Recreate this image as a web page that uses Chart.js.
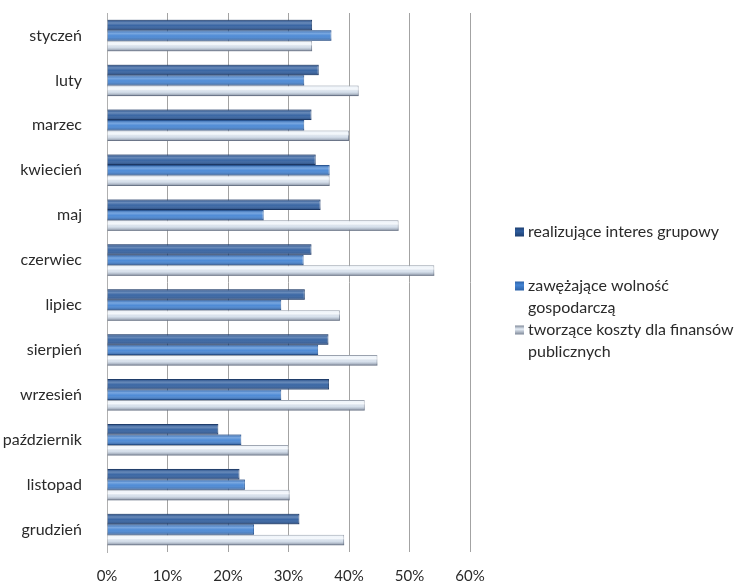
<!DOCTYPE html>
<html><head><meta charset="utf-8">
<script src="https://cdn.jsdelivr.net/npm/chart.js@4"></script>
<style>html,body{margin:0;padding:0;background:#fff}</style>
</head><body>
<canvas id="c" width="740" height="581"></canvas>
<script>
const months = ['styczeń','luty','marzec','kwiecień','maj','czerwiec','lipiec','sierpień','wrzesień','październik','listopad','grudzień'];
const seriesNames = ['realizujące interes grupowy','zawężające wolność gospodarczą','tworzące koszty dla finansów publicznych'];
const legendLines = [['realizujące interes grupowy'],['zawężające wolność','gospodarczą'],['tworzące koszty dla finansów','publicznych']];
const grupowy = [33.9,35.0,33.8,34.5,35.3,33.8,32.7,36.6,36.7,18.4,21.9,31.8];
const wolnosc = [37.1,32.6,32.6,36.8,25.9,32.5,28.8,34.9,28.8,22.2,22.8,24.3];
const koszty  = [33.9,41.6,40.0,36.8,48.2,54.1,38.5,44.7,42.6,30.0,30.2,39.2];
const xTicks = [0,10,20,30,40,50,60];

const fillColors = ['#2F5E9F','#4585D4','#E6EEF7'];
const borderColors = ['#1E3F70','#2C62A8','#7E8898'];
const FONT = "Lato, 'Open Sans', sans-serif";
const TEXT = '#2a2a2a';

const shade = {
  id:'shade',
  afterDatasetsDraw(chart){
    const ctx = chart.ctx;
    chart.data.datasets.forEach((ds,di)=>{
      const meta = chart.getDatasetMeta(di);
      meta.data.forEach(el=>{
        const p = el.getProps(['x','y','base','height'], true);
        const top = p.y - p.height/2, h = p.height;
        const g = ctx.createLinearGradient(0, top, 0, top+h);
        if (di===2){
          g.addColorStop(0,'rgba(255,255,255,0.2)');
          g.addColorStop(0.35,'rgba(255,255,255,0.6)');
          g.addColorStop(0.6,'rgba(160,175,195,0.2)');
          g.addColorStop(1,'rgba(90,100,120,0.75)');
        } else {
          g.addColorStop(0,'rgba(0,20,60,0.25)');
          g.addColorStop(0.3,'rgba(255,255,255,0.28)');
          g.addColorStop(0.55,'rgba(255,255,255,0.05)');
          g.addColorStop(1,'rgba(0,20,60,0.4)');
        }
        ctx.save();
        ctx.fillStyle = g;
        ctx.fillRect(Math.min(p.base,p.x), top, Math.abs(p.x-p.base), h);
        ctx.restore();
      });
    });
  }
};

const legendPlugin = {
  id:'customLegend',
  afterDraw(chart){
    const ctx = chart.ctx;
    const ys = [[232],[286,308],[330,352]];
    ctx.save();
    ctx.font = "16px " + FONT;
    ctx.textBaseline = 'middle';
    legendLines.forEach((lines,i)=>{
      const my = ys[i][0];
      const g = ctx.createLinearGradient(0,my-4.5,0,my+4.5);
      g.addColorStop(0, borderColors[i]);
      g.addColorStop(0.4, fillColors[i]);
      g.addColorStop(1, borderColors[i]);
      ctx.fillStyle = g;
      ctx.fillRect(515, my-4.5, 9, 9);
      ctx.fillStyle = TEXT;
      lines.forEach((t,j)=>ctx.fillText(t, 528, ys[i][j]));
    });
    ctx.restore();
  }
};

new Chart(document.getElementById('c'), {
  type:'bar',
  data:{
    labels: months,
    datasets:[
      {label:seriesNames[0], data:grupowy, backgroundColor:fillColors[0], borderColor:borderColors[0], borderWidth:1},
      {label:seriesNames[1], data:wolnosc, backgroundColor:fillColors[1], borderColor:borderColors[1], borderWidth:1},
      {label:seriesNames[2], data:koszty, backgroundColor:fillColors[2], borderColor:borderColors[2], borderWidth:1}
    ]
  },
  options:{
    indexAxis:'y',
    responsive:false,
    animation:false,
    categoryPercentage:0.7,
    barPercentage:1.0,
    layout:{padding:{left:0,top:13,right:270,bottom:0}},
    plugins:{legend:{display:false}, tooltip:{enabled:false}},
    scales:{
      x:{
        min:0, max:60,
        afterBuildTicks(s){ s.ticks = xTicks.map(v=>({value:v})); },
        afterFit(s){ s.height = 29; s.paddingLeft = 0; s.paddingRight = 0; },
        grid:{color:'#a3a3a3', drawTicks:false},
        border:{display:false},
        ticks:{padding:15, color:TEXT, font:{family:FONT,size:15}, callback:v=>v+'%'}
      },
      y:{
        afterFit(s){ s.width = 107; s.paddingTop = 0; s.paddingBottom = 0; },
        grid:{display:false},
        border:{display:true,color:'#b0b0b0'},
        ticks:{padding:17, color:TEXT, font:{family:FONT,size:16}}
      }
    }
  },
  plugins:[shade, legendPlugin]
});
</script>
</body></html>
